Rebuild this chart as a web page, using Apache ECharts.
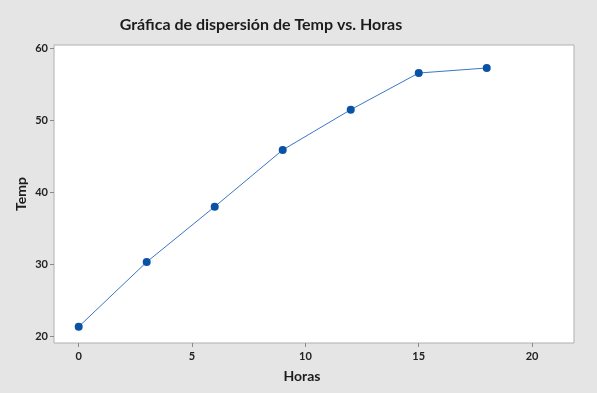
<!DOCTYPE html>
<html><head><meta charset="utf-8">
<script src="https://cdn.jsdelivr.net/npm/echarts@6/dist/echarts.min.js"></script>
<style>html,body{margin:0;padding:0;background:#e5e5e5}#c{width:597px;height:393px}</style>
</head><body><div id="c"></div>
<script>
const horas = [0, 3, 6, 9, 12, 15, 18];
const temp = [21.3, 30.3, 38.0, 45.9, 51.5, 56.6, 57.3];
const xTicks = [0, 5, 10, 15, 20];
const yTicks = [20, 30, 40, 50, 60];
const titleText = 'Gráfica de dispersión de Temp vs. Horas';
const xName = 'Horas';
const yName = 'Temp';

const chart = echarts.init(document.getElementById('c'), null, {renderer: 'canvas'});
const font = 'Lato, "Open Sans", sans-serif';
chart.setOption({
  backgroundColor: '#e5e5e5',
  animation: false,
  title: [
    {text: titleText, left: 256, top: 12, textAlign: 'center',
     textStyle: {fontFamily: font, fontSize: 16, fontWeight: 'bold', color: '#1c1c1c'}},
    {text: xName, left: 297, top: 364, textAlign: 'center',
     textStyle: {fontFamily: font, fontSize: 14, fontWeight: 'bold', color: '#1c1c1c'}}
  ],
  grid: {left: 54, top: 45, right: 23, bottom: 50, show: true, backgroundColor: '#ffffff',
         borderColor: '#b0b0b0', borderWidth: 1},
  xAxis: {
    type: 'value', min: -1.09, max: 21.85,
    axisLine: {show: false},
    splitLine: {show: false},
    axisTick: {show: true, length: 4, lineStyle: {color: '#8a8a8a'}, customValues: xTicks},
    axisLabel: {customValues: xTicks, margin: 8, fontFamily: font, fontSize: 11, fontWeight: 'bold', color: '#222'}
  },
  yAxis: {
    type: 'value', min: 19.03, max: 60.5,
    name: yName, nameLocation: 'middle', nameGap: 26, nameRotate: 90, nameMoveOverlap: false,
    nameTextStyle: {fontFamily: font, fontSize: 14, fontWeight: 'bold', color: '#1c1c1c'},
    axisLine: {show: false, onZero: false},
    splitLine: {show: false},
    axisTick: {show: true, length: 4, lineStyle: {color: '#8a8a8a'}, customValues: yTicks},
    axisLabel: {customValues: yTicks, margin: 6, fontFamily: font, fontSize: 11, fontWeight: 'bold', color: '#222'}
  },
  series: [{
    type: 'line',
    data: horas.map((h, i) => [h, temp[i]]),
    symbol: 'circle', symbolSize: 8,
    lineStyle: {color: '#3a78c6', width: 1},
    itemStyle: {color: '#0a52a6'}
  }]
});
</script></body></html>
